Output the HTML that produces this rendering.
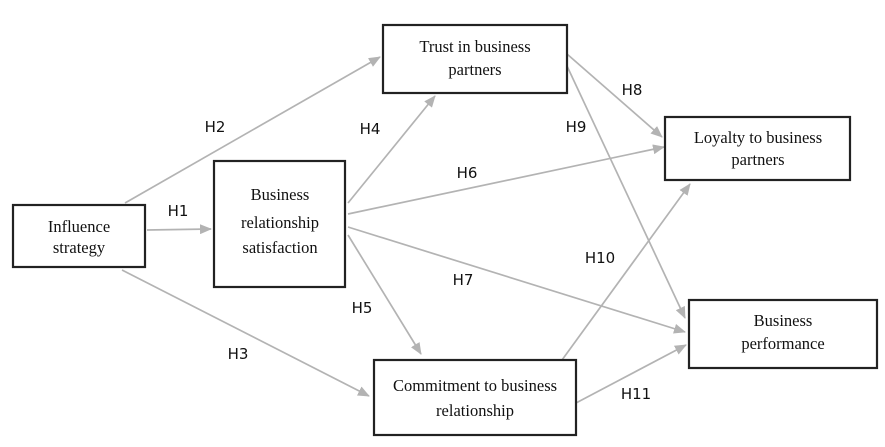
<!DOCTYPE html>
<html><head><meta charset="utf-8"><style>
body{margin:0;background:#fff;}
svg{display:block}
.b{fill:#fff;stroke:#222;stroke-width:2.2}
.t{font-family:"Liberation Serif",serif;font-size:16.5px;fill:#111;text-anchor:middle}
.h{font-family:"DejaVu Sans","Liberation Sans",sans-serif;font-size:15px;fill:#111;text-anchor:middle}
line{stroke:#b3b3b3;stroke-width:1.7}
</style></head><body>
<svg width="885" height="447" viewBox="0 0 885 447">
<defs><marker id="a" markerWidth="12" markerHeight="10" refX="11" refY="5" orient="auto" markerUnits="userSpaceOnUse"><path d="M0,0 L12,5 L0,10 z" fill="#b3b3b3"/></marker></defs>
<g marker-end="url(#a)">
<line x1="125" y1="203" x2="380" y2="57"/>
<line x1="147" y1="230" x2="211" y2="229"/>
<line x1="122" y1="270" x2="369" y2="396"/>
<line x1="348" y1="203" x2="435" y2="96"/>
<line x1="348" y1="214" x2="664" y2="147"/>
<line x1="348" y1="227" x2="685" y2="332"/>
<line x1="348" y1="235" x2="421" y2="354"/>
<line x1="567" y1="54" x2="662" y2="137"/>
<line x1="567" y1="66" x2="685" y2="318"/>
<line x1="562" y1="360" x2="690" y2="184"/>
<line x1="576" y1="403" x2="686" y2="345"/>
</g>
<rect class="b" x="13" y="205" width="132" height="62"/>
<rect class="b" x="214" y="161" width="131" height="126"/>
<rect class="b" x="383" y="25" width="184" height="68"/>
<rect class="b" x="374" y="360" width="202" height="75"/>
<rect class="b" x="665" y="117" width="185" height="63"/>
<rect class="b" x="689" y="300" width="188" height="68"/>
<text class="t" x="79" y="232">Influence</text><text class="t" x="79" y="253">strategy</text>
<text class="t" x="280" y="200">Business</text><text class="t" x="280" y="228">relationship</text><text class="t" x="280" y="253">satisfaction</text>
<text class="t" x="475" y="52">Trust in business</text><text class="t" x="475" y="75">partners</text>
<text class="t" x="475" y="391">Commitment to business</text><text class="t" x="475" y="416">relationship</text>
<text class="t" x="758" y="143">Loyalty to business</text><text class="t" x="758" y="165">partners</text>
<text class="t" x="783" y="326">Business</text><text class="t" x="783" y="349">performance</text>
<text class="h" x="215" y="132">H2</text>
<text class="h" x="178" y="216">H1</text>
<text class="h" x="238" y="359">H3</text>
<text class="h" x="370" y="134">H4</text>
<text class="h" x="362" y="313">H5</text>
<text class="h" x="467" y="178">H6</text>
<text class="h" x="463" y="285">H7</text>
<text class="h" x="632" y="95">H8</text>
<text class="h" x="576" y="132">H9</text>
<text class="h" x="600" y="263">H10</text>
<text class="h" x="636" y="399">H11</text>
</svg>
</body></html>
